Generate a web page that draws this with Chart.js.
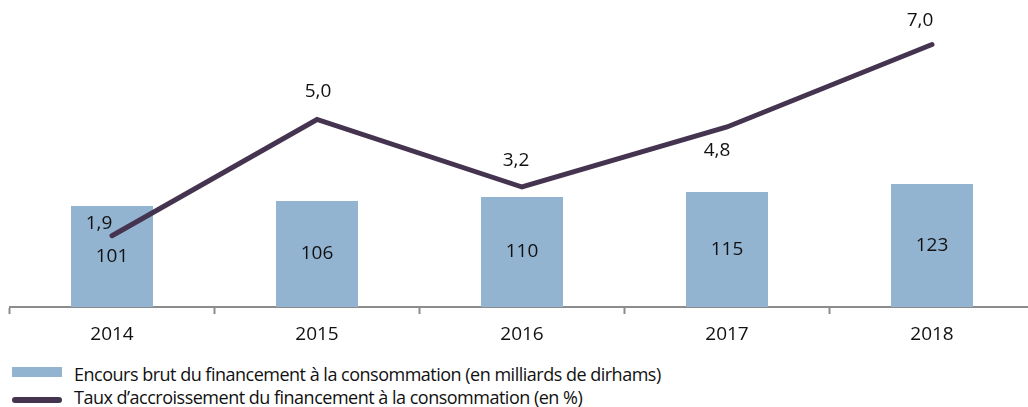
<!DOCTYPE html>
<html lang="fr">
<head>
<meta charset="utf-8">
<title>Financement à la consommation</title>
<script src="https://cdn.jsdelivr.net/npm/chart.js@4.4.1/dist/chart.umd.min.js"></script>
<style>
  html, body { margin: 0; padding: 0; background: #fff; overflow: hidden; }
  body { width: 1028px; height: 407px; position: relative; font-family: "Open Sans", sans-serif; }
  #wrap { position: absolute; left: 0; top: 0; width: 1044px; height: 350px; }
  #legende { position: absolute; left: 12px; top: 362px; font-size: 18px; letter-spacing: -0.5px; color: #111; }
  .item { display: flex; align-items: center; height: 23px; }
  .cle { width: 50px; margin-right: 12px; position: relative; }
</style>
</head>
<body>
<div id="wrap"><canvas id="myChart"></canvas></div>
<div id="legende"></div>
<script>
const annees = ['2014', '2015', '2016', '2017', '2018'];
const encours = [101, 106, 110, 115, 123];
const taux = [1.9, 5.0, 3.2, 4.8, 7.0];

const libelleEncours = 'Encours brut du financement à la consommation (en milliards de dirhams)';
const libelleTaux = 'Taux d\u2019accroissement du financement à la consommation (en %)';

const couleurBarre = '#93b4d1';
const couleurLigne = '#45344f';

// décalage des étiquettes du taux par rapport au point [dx, dy]
const decalTaux = [[-13, -12], [1, -28], [-6, -26], [-10, 24], [-12, -24]];

const format = v => v.toFixed(1).replace('.', ',');

// Étiquettes de valeurs dessinées directement sur le canvas
const etiquettes = {
  id: 'etiquettes',
  afterDatasetsDraw(chart) {
    const ctx = chart.ctx;
    ctx.save();
    ctx.font = '19px "Open Sans", sans-serif';
    ctx.fillStyle = '#111';
    ctx.textAlign = 'center';
    ctx.textBaseline = 'middle';

    chart.getDatasetMeta(1).data.forEach((bar, i) => {
      ctx.fillText(String(encours[i]), bar.x, (bar.y + bar.base) / 2);
    });
    chart.getDatasetMeta(0).data.forEach((pt, i) => {
      const [dx, dy] = decalTaux[i];
      ctx.fillText(format(taux[i]), pt.x + dx, pt.y + dy);
    });
    ctx.restore();
  }
};

const ctx = document.getElementById('myChart').getContext('2d');
new Chart(ctx, {
  data: {
    labels: annees,
    datasets: [
      {
        type: 'line',
        label: libelleTaux,
        data: taux,
        yAxisID: 'y1',
        borderColor: couleurLigne,
        borderWidth: 5,
        borderCapStyle: 'round',
        borderJoinStyle: 'miter',
        pointRadius: 0,
        tension: 0,
        order: 0
      },
      {
        type: 'bar',
        label: libelleEncours,
        data: encours,
        yAxisID: 'y',
        backgroundColor: couleurBarre,
        barPercentage: 0.4,
        categoryPercentage: 1,
        order: 1
      }
    ]
  },
  options: {
    responsive: true,
    maintainAspectRatio: false,
    animation: false,
    layout: { padding: { top: 7, left: 9.5, right: 9.5, bottom: 0 } },
    plugins: {
      legend: { display: false },
      tooltip: { enabled: false }
    },
    scales: {
      x: {
        offset: true,
        grid: {
          offset: true,
          drawOnChartArea: false,
          drawTicks: true,
          tickLength: 7,
          tickWidth: 2,
          tickColor: '#8c8c8c'
        },
        border: { color: '#8c8c8c', width: 2 },
        ticks: {
          color: '#111',
          padding: 9,
          font: { family: '"Open Sans", sans-serif', size: 19 }
        },
        afterFit(scale) { scale.height = 43; }
      },
      y: { display: false, min: 0, max: 300 },
      y1: { display: false, min: 0, max: 8 }
    }
  },
  plugins: [etiquettes]
});

// Légende en HTML sous le graphique
const legende = document.getElementById('legende');
[[libelleEncours, 'barre'], [libelleTaux, 'ligne']].forEach(([texte, genre]) => {
  const item = document.createElement('div');
  item.className = 'item';
  const cle = document.createElement('span');
  cle.className = 'cle';
  if (genre === 'barre') {
    cle.style.height = '10px';
    cle.style.top = '-2px';
    cle.style.background = couleurBarre;
  } else {
    cle.style.height = '6px';
    cle.style.top = '3px';
    cle.style.borderRadius = '3px';
    cle.style.background = couleurLigne;
  }
  const lib = document.createElement('span');
  lib.textContent = texte;
  item.appendChild(cle);
  item.appendChild(lib);
  legende.appendChild(item);
});
</script>
</body>
</html>
